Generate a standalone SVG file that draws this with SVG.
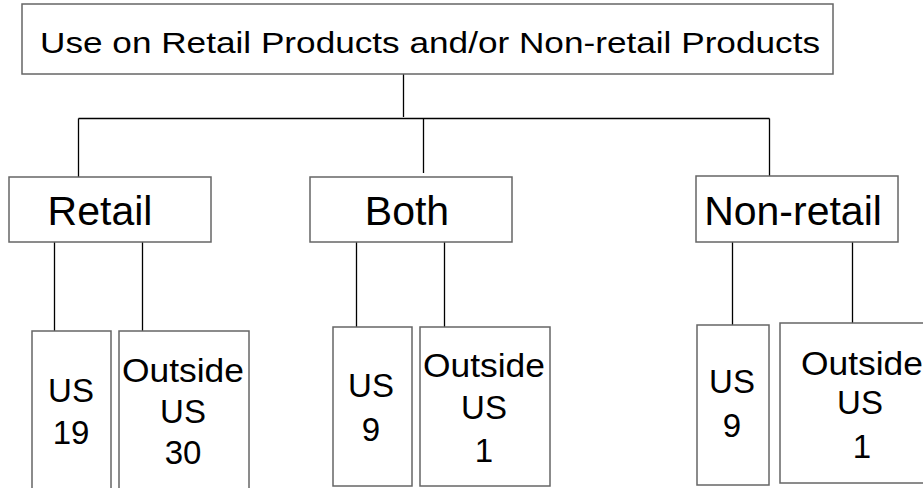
<svg xmlns="http://www.w3.org/2000/svg" width="923" height="488" viewBox="0 0 923 488">
<style>
.box{fill:#fff;stroke:#666;stroke-width:1.5}
.con{stroke:#000;stroke-width:1.3;fill:none}
text{font-family:"Liberation Sans",Arial,sans-serif;fill:#000;text-anchor:middle}
.t0{font-size:30px}
.t1{font-size:41px}
.t2{font-size:33px}
</style>
<rect width="923" height="488" fill="#fff"/>
<g id="connectors">
<path class="con" d="M403.5,74V117 M78.5,118.5H769.5 M78.5,118.5V181 M423.5,118.5V173 M769.5,118.5V178 M54.5,242V331 M142.5,242V331 M356.5,242V327 M444.5,242V327 M732.5,242V325 M852.5,242V323"/>
</g>
<g id="root"><rect class="box" x="22" y="4" width="811" height="70"/><text class="t0" x="430" y="52.5" textLength="780" lengthAdjust="spacingAndGlyphs">Use on Retail Products and/or Non-retail Products</text></g>
<g id="retail"><rect class="box" x="9" y="177" width="202" height="65"/><text class="t1" x="100" y="225">Retail</text></g>
<g id="both"><rect class="box" x="310" y="177" width="202" height="65"/><text class="t1" x="407" y="225">Both</text></g>
<g id="nonretail"><rect class="box" x="696" y="176" width="202" height="66"/><text class="t1" x="793" y="225">Non-retail</text></g>
<g id="retail-us"><rect class="box" x="32" y="331" width="79" height="170"/><text class="t2" x="71" y="402">US</text><text class="t2" x="71" y="444">19</text></g>
<g id="retail-out"><rect class="box" x="119" y="331" width="130" height="170"/><text class="t2" x="183" y="382" textLength="122" lengthAdjust="spacingAndGlyphs">Outside</text><text class="t2" x="183" y="423">US</text><text class="t2" x="183" y="464">30</text></g>
<g id="both-us"><rect class="box" x="333" y="327" width="79" height="159"/><text class="t2" x="371" y="397">US</text><text class="t2" x="371" y="441">9</text></g>
<g id="both-out"><rect class="box" x="420" y="327" width="130" height="159"/><text class="t2" x="484" y="377" textLength="122" lengthAdjust="spacingAndGlyphs">Outside</text><text class="t2" x="484" y="419">US</text><text class="t2" x="484" y="462">1</text></g>
<g id="nonretail-us"><rect class="box" x="697" y="325" width="72" height="160"/><text class="t2" x="732" y="393">US</text><text class="t2" x="732" y="437">9</text></g>
<g id="nonretail-out"><rect class="box" x="780" y="323" width="160" height="160"/><text class="t2" x="862" y="375" textLength="122" lengthAdjust="spacingAndGlyphs">Outside</text><text class="t2" x="860" y="414">US</text><text class="t2" x="862" y="458">1</text></g>
</svg>
